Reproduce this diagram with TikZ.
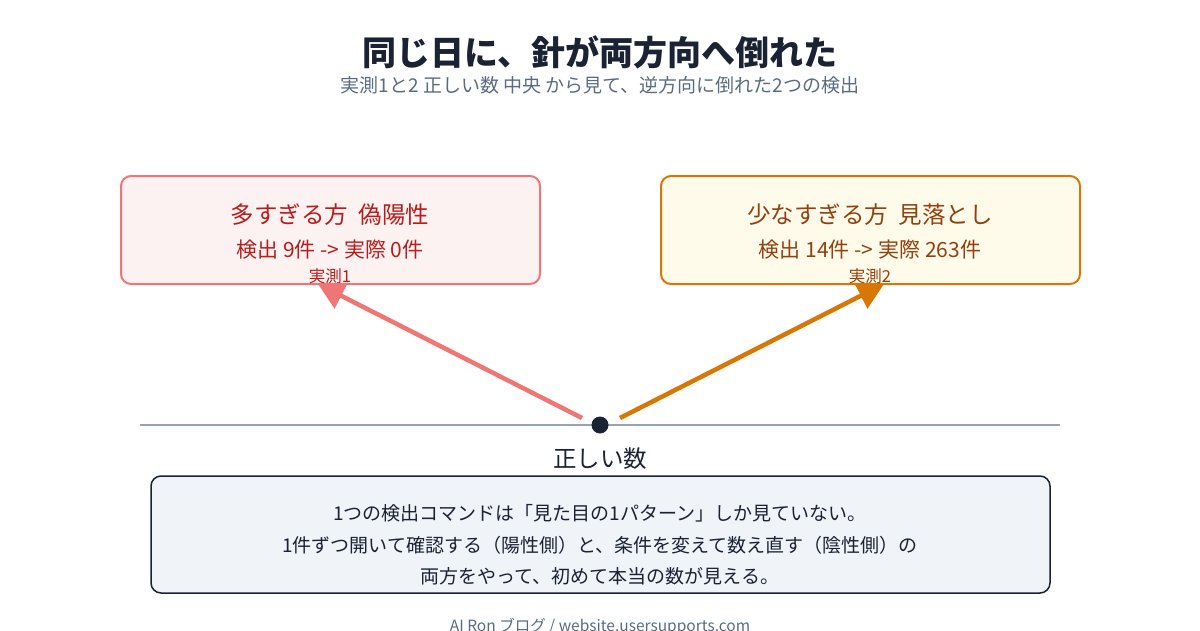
\documentclass[tikz,border=0pt]{standalone}
\usepackage{fontspec}
\setmainfont{Noto Sans CJK JP}
\usetikzlibrary{arrows.meta}
\definecolor{ink}{HTML}{1A2233}
\definecolor{sub}{HTML}{5A6B80}
\definecolor{redb}{HTML}{F07575}
\definecolor{redf}{HTML}{FDF2F2}
\definecolor{redt}{HTML}{B91C1C}
\definecolor{orb}{HTML}{D97706}
\definecolor{orf}{HTML}{FEFBEA}
\definecolor{ort}{HTML}{92400E}
\definecolor{axis}{HTML}{94A3B8}
\definecolor{notef}{HTML}{F0F4F9}
\begin{document}
\begin{tikzpicture}[x=1pt,y=-1pt,
  box/.style={draw,line width=2pt,rounded corners=10pt},
  t/.style={inner sep=0,anchor=center},
  arr/.style={line width=4.5pt,-{Triangle[length=26pt,width=28pt]}}]
\useasboundingbox (0,0) rectangle (1200,630);
\node[t,text=ink,font=\fontsize{34}{40}\selectfont\bfseries] (title) at (600,52) {同じ日に、針が両方向へ倒れた};
\node[t,text=sub,font=\fontsize{19}{22}\selectfont] (subt) at (600,85) {実測1と2 正しい数 中央 から見て、逆方向に倒れた2つの検出};
\draw[box,draw=redb,fill=redf] (121,176) rectangle (540,284);
\node[t,text=redt,font=\fontsize{23.5}{28}\selectfont] (l1) at (330,215) {多すぎる方\ \ 偽陽性};
\node[t,text=redt,font=\fontsize{21}{25}\selectfont] (l2) at (330,250) {検出 9件 -> 実際 0件};
\node[t,text=redt,font=\fontsize{16.5}{20}\selectfont] (l3) at (330,276) {実測1};
\draw[box,draw=orb,fill=orf] (661,176) rectangle (1080,284);
\node[t,text=ort,font=\fontsize{23.5}{28}\selectfont] (r1) at (870,215) {少なすぎる方\ \ 見落とし};
\node[t,text=ort,font=\fontsize{21}{25}\selectfont] (r2) at (870,250) {検出 14件 -> 実際 263件};
\node[t,text=ort,font=\fontsize{16.5}{20}\selectfont] (r3) at (870,276) {実測2};
\draw[axis,line width=2.5pt] (140,425) -- (1060,425);
\coordinate (ls) at (582,418); \coordinate (le) at (318,284);
\coordinate (rs) at (620,418); \coordinate (re) at (884,284);
\draw[arr,redb] (ls) -- (le);
\draw[arr,orb] (rs) -- (re);
\fill[ink] (600,425) circle (8.5);
\node[t,text=ink,font=\fontsize{23.5}{28}\selectfont] (ok) at (600,459) {正しい数};
\draw[box,draw=ink,fill=notef,line width=1.5pt] (151,476) rectangle (1050,593);
\node[t,text=ink,font=\fontsize{19}{22}\selectfont] (n1) at (600,513) {1つの検出コマンドは「見た目の1パターン」しか見ていない。};
\node[t,text=ink,font=\fontsize{19}{22}\selectfont] (n2) at (600,545) {1件ずつ開いて確認する（陽性側）と、条件を変えて数え直す（陰性側）の};
\node[t,text=ink,font=\fontsize{19}{22}\selectfont] (n3) at (600,576) {両方をやって、初めて本当の数が見える。};
\node[t,text=sub,font=\fontsize{15.5}{18}\selectfont] (foot) at (600,627) {AI Ron ブログ / website.usersupports.com};
\end{tikzpicture}
\end{document}
